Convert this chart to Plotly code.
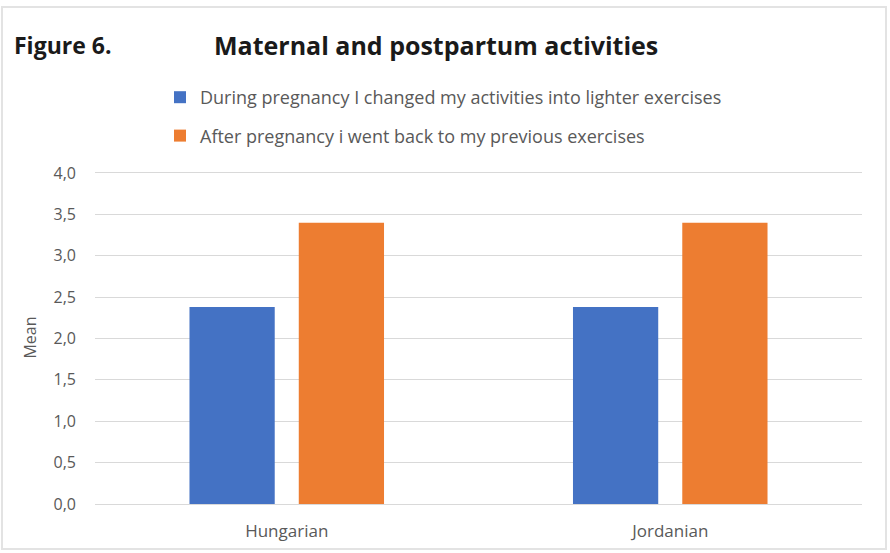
import plotly.graph_objects as go

categories = ["Hungarian", "Jordanian"]
series_names = [
    "During pregnancy I changed my activities into lighter exercises",
    "After pregnancy i went back to my previous exercises",
]
during_values = [2.38, 2.38]
after_values = [3.40, 3.40]
y_ticks = [0, 0.5, 1.0, 1.5, 2.0, 2.5, 3.0, 3.5, 4.0]

BLUE = "#4472C4"
ORANGE = "#ED7D31"
GRAY_TXT = "#595959"
FONT = "Open Sans"

fig = go.Figure()
fig.add_trace(go.Bar(x=categories, y=during_values, name=series_names[0],
                     marker=dict(color=BLUE, line=dict(width=0)), legendgroup="a"))
fig.add_trace(go.Bar(x=categories, y=after_values, name=series_names[1],
                     marker=dict(color=ORANGE, line=dict(width=0)), legendgroup="b"))

W, H = 890, 553
ml, mr, mt, mb = 95, 28, 171, 49
pw, ph = W - ml - mr, H - mt - mb

def px_x(p):
    return (p - ml) / pw

def px_y(p):
    return (H - mb - p) / ph

fig.update_layout(
    width=W, height=H,
    margin=dict(l=ml, r=mr, t=mt, b=mb, pad=0),
    paper_bgcolor="white", plot_bgcolor="white",
    separators=", ",
    barmode="group", bargap=0.43, bargroupgap=0.22,
    font=dict(family=FONT, color=GRAY_TXT, size=15),
    showlegend=True,
    legend=dict(
        x=px_x(160), xanchor="left", y=px_y(79), yanchor="top",
        orientation="v", tracegroupgap=12,
        font=dict(family=FONT, size=18, color=GRAY_TXT),
        bgcolor="rgba(0,0,0,0)", itemwidth=30,
    ),
    xaxis=dict(
        showgrid=False, showline=False, ticks="",
        ticklabelstandoff=15,
        tickfont=dict(family=FONT, size=17, color=GRAY_TXT),
    ),
    yaxis=dict(
        range=[0, 4.024], tickvals=y_ticks, tickformat=".1f",
        showgrid=True, gridcolor="#D9D9D9", gridwidth=1,
        zeroline=True, zerolinecolor="#D9D9D9", zerolinewidth=1,
        showline=False, ticks="", ticklabelstandoff=18,
        tickfont=dict(family=FONT, size=16, color=GRAY_TXT),
        title=dict(text="Mean", font=dict(family=FONT, size=16, color=GRAY_TXT), standoff=12),
    ),
    annotations=[
        dict(text="<b>Figure 6.</b>", xref="paper", yref="paper",
             x=px_x(12), y=px_y(45), xanchor="left", yanchor="middle",
             showarrow=False, font=dict(family=FONT, size=23, color="#1a1a1a")),
        dict(text="<b>Maternal and postpartum activities</b>", xref="paper", yref="paper",
             x=px_x(436), y=px_y(45), xanchor="center", yanchor="middle",
             showarrow=False, font=dict(family=FONT, size=25, color="#1a1a1a")),
    ],
    shapes=[
        dict(type="rect", xref="paper", yref="paper",
             x0=px_x(2), x1=px_x(886), y0=px_y(549), y1=px_y(7),
             line=dict(color="#E3E3E3", width=2), layer="below"),
    ],
)

fig.write_html("out.html", config={"displayModeBar": False},
               post_script="document.body.style.margin='0px';")
